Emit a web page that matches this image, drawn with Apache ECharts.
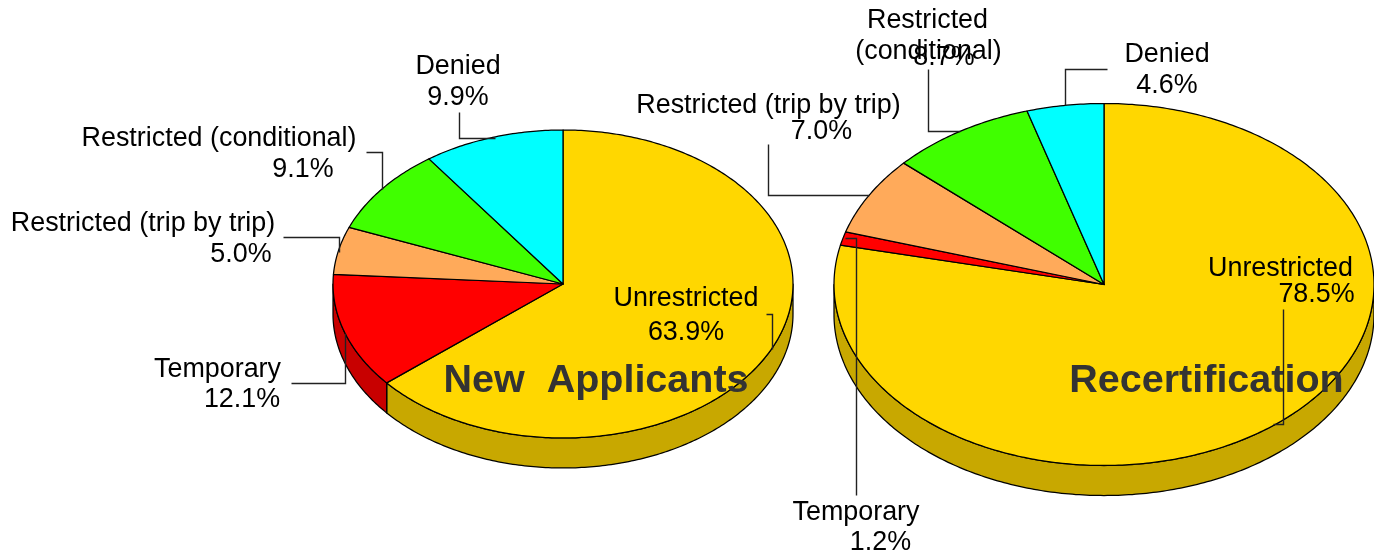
<!DOCTYPE html>
<html>
<head>
<meta charset="utf-8">
<style>html,body{margin:0;padding:0;background:#fff}#c{width:1374px;height:556px}</style>
<script src="https://cdn.jsdelivr.net/npm/echarts@6/dist/echarts.min.js"></script>
</head>
<body>
<div id="c"></div>
<script>
// ---- data ----
const categories = ['Unrestricted', 'Temporary', 'Restricted (trip by trip)', 'Restricted (conditional)', 'Denied'];
const newApplicants = [63.9, 12.1, 5.0, 9.1, 9.9];
const recertification = [78.5, 1.2, 7.0, 8.7, 4.6];
const chartTitles = ['New  Applicants', 'Recertification'];

// ---- styles and layout ----
const topColors = ['#FFD700', '#FF0000', '#FFAA5A', '#40FF00', '#00FFFF'];
const wallColors = ['#C8A800', '#C80000', '#C88646', '#32C800', '#00C8C8'];
const FONT = '"Liberation Sans", Arial, sans-serif';
const LABEL_FONT = '26.9px ' + FONT;
const discA = { cx: 563, cy: 284, rx: 230, ry: 154, depth: 30 };
const discB = { cx: 1104, cy: 284.5, rx: 270, ry: 181, depth: 30 };

// For each category: text lines with their centres, and the leader line.
const placementA = [
  { lines: [['Unrestricted', 686, 299]], value: [686, 333], leader: [[766, 314], [772, 314], [772, 349]] },
  { lines: [['Temporary', 217.5, 370]], value: [242, 400], leader: [[291, 383], [345, 383], [345, 333]] },
  { lines: [['Restricted (trip by trip)', 143, 224]], value: [241, 255], leader: [[283, 237], [339, 237], [339, 252]] },
  { lines: [['Restricted (conditional)', 219, 139]], value: [303, 170], leader: [[366, 152], [382, 152], [382, 189]] },
  { lines: [['Denied', 458, 67]], value: [458, 98], leader: [[459, 112], [459, 138], [495, 138]] }
];
const placementB = [
  { lines: [['Unrestricted', 1280.5, 269]], value: [1316.5, 295], leader: [[1283, 309], [1283, 424], [1273, 424]] },
  { lines: [['Temporary', 856, 513]], value: [880.5, 543], leader: [[845, 238], [856, 238], [856, 495]] },
  { lines: [['Restricted (trip by trip)', 768.5, 106]], value: [821.5, 132], leader: [[768, 144], [768, 195], [869, 195]] },
  { lines: [['Restricted', 927.5, 21], ['(conditional)', 928.5, 52]], value: [944, 58], leader: [[928, 69], [928, 131], [960, 131]] },
  { lines: [['Denied', 1167, 55]], value: [1167, 86], leader: [[1107, 69], [1065, 69], [1065, 105]] }
];

function point(d, deg, drop) {
  const a = deg * Math.PI / 180;
  return [d.cx + d.rx * Math.sin(a), d.cy - d.ry * Math.cos(a) + (drop || 0)];
}
function arc(d, from, to, drop) {
  const n = Math.max(2, Math.ceil(Math.abs(to - from) / 0.75));
  const pts = [];
  for (let i = 0; i <= n; i++) pts.push(point(d, from + (to - from) * i / n, drop));
  return pts;
}
function sliceRange(values, i) {
  const total = values.reduce((s, v) => s + v, 0);
  const before = values.slice(0, i).reduce((s, v) => s + v, 0);
  return [before / total * 360, (before + values[i]) / total * 360];
}
const edge = { stroke: '#000', lineWidth: 1.25, lineJoin: 'round' };

function pieSeries(values, disc) {
  return {
    type: 'custom', coordinateSystem: 'none', silent: true, z: 2,
    data: values.map((v, i) => ({ value: v, name: categories[i] })),
    renderItem: function (params) {
      const i = params.dataIndex;
      const [a0, a1] = sliceRange(values, i);
      const children = [];
      const w0 = Math.max(a0, 90), w1 = Math.min(a1, 270);
      if (w1 > w0) {
        children.push({
          type: 'polygon',
          shape: { points: arc(disc, w0, w1, 0).concat(arc(disc, w1, w0, disc.depth)) },
          style: Object.assign({ fill: wallColors[i] }, edge)
        });
      }
      children.push({
        type: 'polygon',
        shape: { points: [[disc.cx, disc.cy]].concat(arc(disc, a0, a1, 0)) },
        style: Object.assign({ fill: topColors[i] }, edge)
      });
      return { type: 'group', children: children };
    }
  };
}

function labelSeries(values, placement) {
  return {
    type: 'custom', coordinateSystem: 'none', silent: true, z: 10,
    data: values.map((v, i) => ({ value: v, name: categories[i] })),
    renderItem: function (params) {
      const i = params.dataIndex, p = placement[i];
      const snapped = p.leader.map(q => [Math.round(q[0]) + 0.5, Math.round(q[1]) + 0.5]);
      const children = [{
        type: 'polyline', shape: { points: snapped },
        style: { stroke: '#222', lineWidth: 1.4, fill: null }
      }];
      const text = (t, x, y) => ({
        type: 'text',
        style: { text: t, x: x, y: y, font: LABEL_FONT, fill: '#000', align: 'center', verticalAlign: 'middle' }
      });
      p.lines.forEach(l => children.push(text(l[0], l[1], l[2])));
      children.push(text(values[i].toFixed(1) + '%', p.value[0], p.value[1]));
      return { type: 'group', children: children };
    }
  };
}

const chart = echarts.init(document.getElementById('c'), null, { renderer: 'canvas' });
chart.setOption({
  animation: false,
  backgroundColor: '#fff',
  title: [
    { text: chartTitles[0], left: 596, top: 381, textAlign: 'center', textVerticalAlign: 'middle', padding: 0,
      textStyle: { fontFamily: FONT, fontSize: 39.5, fontWeight: 'bold', color: '#333' } },
    { text: chartTitles[1], left: 1206.5, top: 381, textAlign: 'center', textVerticalAlign: 'middle', padding: 0,
      textStyle: { fontFamily: FONT, fontSize: 39.5, fontWeight: 'bold', color: '#333' } }
  ],
  series: [
    pieSeries(newApplicants, discA),
    pieSeries(recertification, discB),
    labelSeries(newApplicants, placementA),
    labelSeries(recertification, placementB)
  ]
});
</script>
</body>
</html>
